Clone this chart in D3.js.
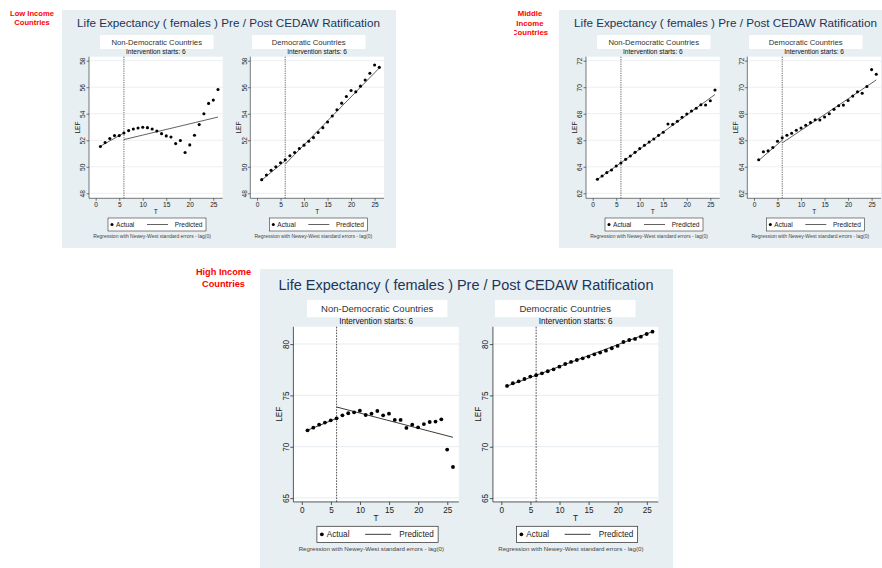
<!DOCTYPE html>
<html>
<head>
<meta charset="utf-8">
<script src="https://cdn.jsdelivr.net/npm/d3@7"></script>
<style>
  body { margin: 0; background: #fff; }
  svg { display: block; font-family: "Liberation Sans", Arial, sans-serif; }
</style>
</head>
<body>
<svg width="882" height="568"></svg>
<script>
// time index (years since start)
var T = [1,2,3,4,5,6,7,8,9,10,11,12,13,14,15,16,17,18,19,20,21,22,23,24,25,26];
var xTicks = [0,5,10,15,20,25];
var intervention = 6;

// actual LEF values
var lowNonDem = [51.53,51.83,52.13,52.35,52.35,52.55,52.73,52.85,52.93,52.98,52.95,52.85,52.70,52.50,52.33,52.25,51.75,51.98,51.08,51.65,52.38,53.18,54.00,54.78,55.03,55.83];
var lowDem    = [49.03,49.38,49.73,50.00,50.30,50.53,50.83,51.08,51.38,51.63,51.93,52.20,52.58,52.95,53.38,53.83,54.30,54.80,55.30,55.75,55.65,56.08,56.55,57.05,57.68,57.50];
var midNonDem = [63.06,63.31,63.56,63.76,64.06,64.29,64.56,64.81,65.09,65.37,65.62,65.87,66.10,66.37,66.60,67.23,67.20,67.43,67.73,67.98,68.21,68.41,68.68,68.66,68.98,69.79];
var midDem    = [64.53,65.13,65.20,65.45,65.93,66.18,66.38,66.53,66.75,66.93,67.13,67.33,67.55,67.53,67.75,68.00,68.33,68.60,68.65,69.00,69.33,69.65,69.55,70.05,71.33,70.98];
var highNonDem= [71.59,71.85,72.14,72.34,72.56,72.76,73.05,73.25,73.34,73.50,73.08,73.21,73.47,73.05,73.21,72.60,72.60,71.82,72.14,71.88,72.20,72.40,72.44,72.66,69.71,68.02];
var highDem   = [75.91,76.17,76.36,76.59,76.82,76.95,77.14,77.34,77.53,77.79,78.05,78.25,78.44,78.60,78.77,78.99,79.16,79.35,79.58,79.81,80.19,80.39,80.49,80.71,80.97,81.20];

// predicted lines: pre segment (T=1 -> 6) and post segment (T=6 -> 26)
var predT = [[1,6],[6,26]];
var lowNonDemPred  = [[51.55,52.55],[52.05,53.75]];
var lowDemPred     = [[49.00,50.45],[50.20,57.45]];
var midNonDemPred  = [[63.05,64.30],[64.30,69.45]];
var midDemPred     = [[64.48,66.00],[65.80,70.55]];
var highNonDemPred = [[71.60,72.75],[73.86,70.91]];
var highDemPred    = [[75.90,76.95],[76.95,81.20]];

var lowTicks  = [48,50,52,54,56,58];
var midTicks  = [62,64,66,68,70,72];
var highTicks = [65,70,75,80];

var groupNames = ["Non-Democratic Countries", "Democratic Countries"];
var titleText = "Life Expectancy ( females ) Pre / Post CEDAW Ratification";
var noteText = "Regression with Newey-West standard errors - lag(0)";

var BG = "#e7eff2", INK = "#222", TITLE = "#1c3558";

var svg = d3.select("svg");

var panels = [
  {x: 62,  y: 10,  k: 1,     h: 238, ticks: lowTicks,  yRange: [183.3, 50.7],
   series: [[lowNonDem, lowNonDemPred], [lowDem, lowDemPred]]},
  {x: 559, y: 10,  k: 1,     h: 238, ticks: midTicks,  yRange: [183.3, 50.7],
   series: [[midNonDem, midNonDemPred], [midDem, midDemPred]]},
  {x: 260, y: 269, k: 1.237, h: 242, ticks: highTicks, yRange: [185.1, 60.6],
   series: [[highNonDem, highNonDemPred], [highDem, highDemPred]]}
];

// plot region inside a panel (panel units), right subplot shifted by dx
var plot = {left: 27, right: 160.7, top: 46.7, bottom: 188.3, dx: 161.3};
var x = d3.scaleLinear().domain([0, 25]).range([33.7, 151.3]);

function drawPanel(p) {
  var g = svg.append("g").attr("transform", "translate(" + p.x + "," + p.y + ") scale(" + p.k + ")");
  g.append("rect").attr("width", 334).attr("height", p.h).attr("fill", BG);

  g.append("text").attr("x", 166.5).attr("y", 17.2)
    .attr("text-anchor", "middle").attr("font-size", 11.7).attr("fill", TITLE)
    .text(titleText);

  var y = d3.scaleLinear().domain([p.ticks[0], p.ticks[p.ticks.length - 1]]).range(p.yRange);
  var boxX = [38, 190];

  p.series.forEach(function(s, i) {
    // subtitle box
    g.append("rect").attr("x", boxX[i]).attr("y", 25).attr("width", 113.5).attr("height", 14).attr("fill", "#fff");
    g.append("text").attr("x", boxX[i] + 56.7).attr("y", 34.7)
      .attr("text-anchor", "middle").attr("font-size", 7.7).attr("fill", "#333")
      .text(groupNames[i]);

    var sg = g.append("g").attr("transform", "translate(" + (i * plot.dx) + ",0)");
    var cx = (plot.left + plot.right) / 2;

    sg.append("text").attr("x", cx).attr("y", 44.3)
      .attr("text-anchor", "middle").attr("font-size", 6.6).attr("fill", "#111")
      .text("Intervention starts: " + intervention);

    sg.append("rect").attr("x", plot.left).attr("y", plot.top)
      .attr("width", plot.right - plot.left).attr("height", plot.bottom - plot.top)
      .attr("fill", "#fff");

    // grid lines
    sg.selectAll(".grid").data(p.ticks).enter().append("line")
      .attr("x1", plot.left).attr("x2", plot.right)
      .attr("y1", function(d) { return y(d); }).attr("y2", function(d) { return y(d); })
      .attr("stroke", "#e2eaee").attr("stroke-width", 0.7);

    // y axis
    var ya = sg.append("g").attr("transform", "translate(" + plot.left + ",0)")
      .call(d3.axisLeft(y).tickValues(p.ticks).tickSize(2.5).tickSizeOuter(0));
    ya.select(".domain").remove();
    ya.selectAll("line").attr("stroke", INK).attr("stroke-width", 0.6);
    ya.selectAll("text").attr("x", null).attr("dy", null)
      .attr("text-anchor", "middle").attr("font-size", 6.6).attr("fill", INK)
      .attr("font-family", null)
      .attr("transform", "translate(-3.8,0) rotate(-90)");
    sg.append("line").attr("x1", plot.left).attr("x2", plot.left)
      .attr("y1", plot.top).attr("y2", plot.bottom).attr("stroke", INK).attr("stroke-width", 0.6);

    // x axis
    var xa = sg.append("g").attr("transform", "translate(0," + plot.bottom + ")")
      .call(d3.axisBottom(x).tickValues(xTicks).tickSize(2.5).tickSizeOuter(0).tickPadding(2));
    xa.select(".domain").remove();
    xa.selectAll("line").attr("stroke", INK).attr("stroke-width", 0.6);
    xa.selectAll("text").attr("font-size", 6.6).attr("fill", INK).attr("font-family", null);
    sg.append("line").attr("x1", plot.left).attr("x2", plot.right)
      .attr("y1", plot.bottom).attr("y2", plot.bottom).attr("stroke", INK).attr("stroke-width", 0.6);

    sg.append("text").attr("x", cx).attr("y", 204)
      .attr("text-anchor", "middle").attr("font-size", 6.6).attr("fill", INK).text("T");
    sg.append("text").attr("transform", "translate(17.5," + ((plot.top + plot.bottom) / 2) + ") rotate(-90)")
      .attr("text-anchor", "middle").attr("font-size", 6.6).attr("fill", INK).text("LEF");

    // intervention line
    sg.append("line").attr("x1", x(intervention)).attr("x2", x(intervention))
      .attr("y1", plot.top).attr("y2", plot.bottom)
      .attr("stroke", "#333").attr("stroke-width", 0.7).attr("stroke-dasharray", "1.3,1");

    // predicted segments
    var line = d3.line().x(function(d) { return x(d[0]); }).y(function(d) { return y(d[1]); });
    s[1].forEach(function(seg, j) {
      sg.append("path").attr("d", line([[predT[j][0], seg[0]], [predT[j][1], seg[1]]]))
        .attr("fill", "none").attr("stroke", "#3a3a3a").attr("stroke-width", 0.8);
    });

    // actual points
    sg.selectAll(".pt").data(s[0]).enter().append("circle")
      .attr("cx", function(d, k) { return x(T[k]); })
      .attr("cy", function(d) { return y(d); })
      .attr("r", 1.55).attr("fill", "#000");

    // legend
    var lg = sg.append("g");
    lg.append("rect").attr("x", 46).attr("y", 208).attr("width", 98).attr("height", 13)
      .attr("fill", "#fff").attr("stroke", "#333").attr("stroke-width", 0.6);
    lg.append("circle").attr("cx", 50).attr("cy", 214.5).attr("r", 1.5).attr("fill", "#000");
    lg.append("text").attr("x", 54).attr("y", 216.8).attr("font-size", 6.6).attr("fill", INK).text("Actual");
    lg.append("line").attr("x1", 85).attr("x2", 106).attr("y1", 214.5).attr("y2", 214.5)
      .attr("stroke", "#3a3a3a").attr("stroke-width", 0.8);
    lg.append("text").attr("x", 140.5).attr("y", 216.8).attr("text-anchor", "end")
      .attr("font-size", 6.6).attr("fill", INK).text("Predicted");

    sg.append("text").attr("x", 90).attr("y", 227.8).attr("text-anchor", "middle")
      .attr("font-size", 5).attr("fill", "#444").text(noteText);
  });
}

panels.forEach(drawPanel);

// red income-group labels
var labels = [
  {lines: ["Low Income", "Countries"], x: 32, y: 16, size: 7.6, lead: 9.4},
  {lines: ["Middle", "Income", "Countries"], x: 530, y: 16, size: 7.8, lead: 9.7},
  {lines: ["High Income", "Countries"], x: 223.5, y: 275, size: 9.2, lead: 12.3}
];
svg.append("clipPath").attr("id", "midclip").append("rect")
  .attr("x", 514).attr("y", 0).attr("width", 45).attr("height", 60);
labels.forEach(function(l, i) {
  var t = svg.append("text").attr("text-anchor", "middle").attr("font-weight", "bold")
    .attr("font-size", l.size).attr("fill", "#ff0000");
  if (i === 1) t.attr("clip-path", "url(#midclip)");
  l.lines.forEach(function(s, j) {
    t.append("tspan").attr("x", l.x).attr("y", l.y + j * l.lead).text(s);
  });
});
</script>
</body>
</html>
